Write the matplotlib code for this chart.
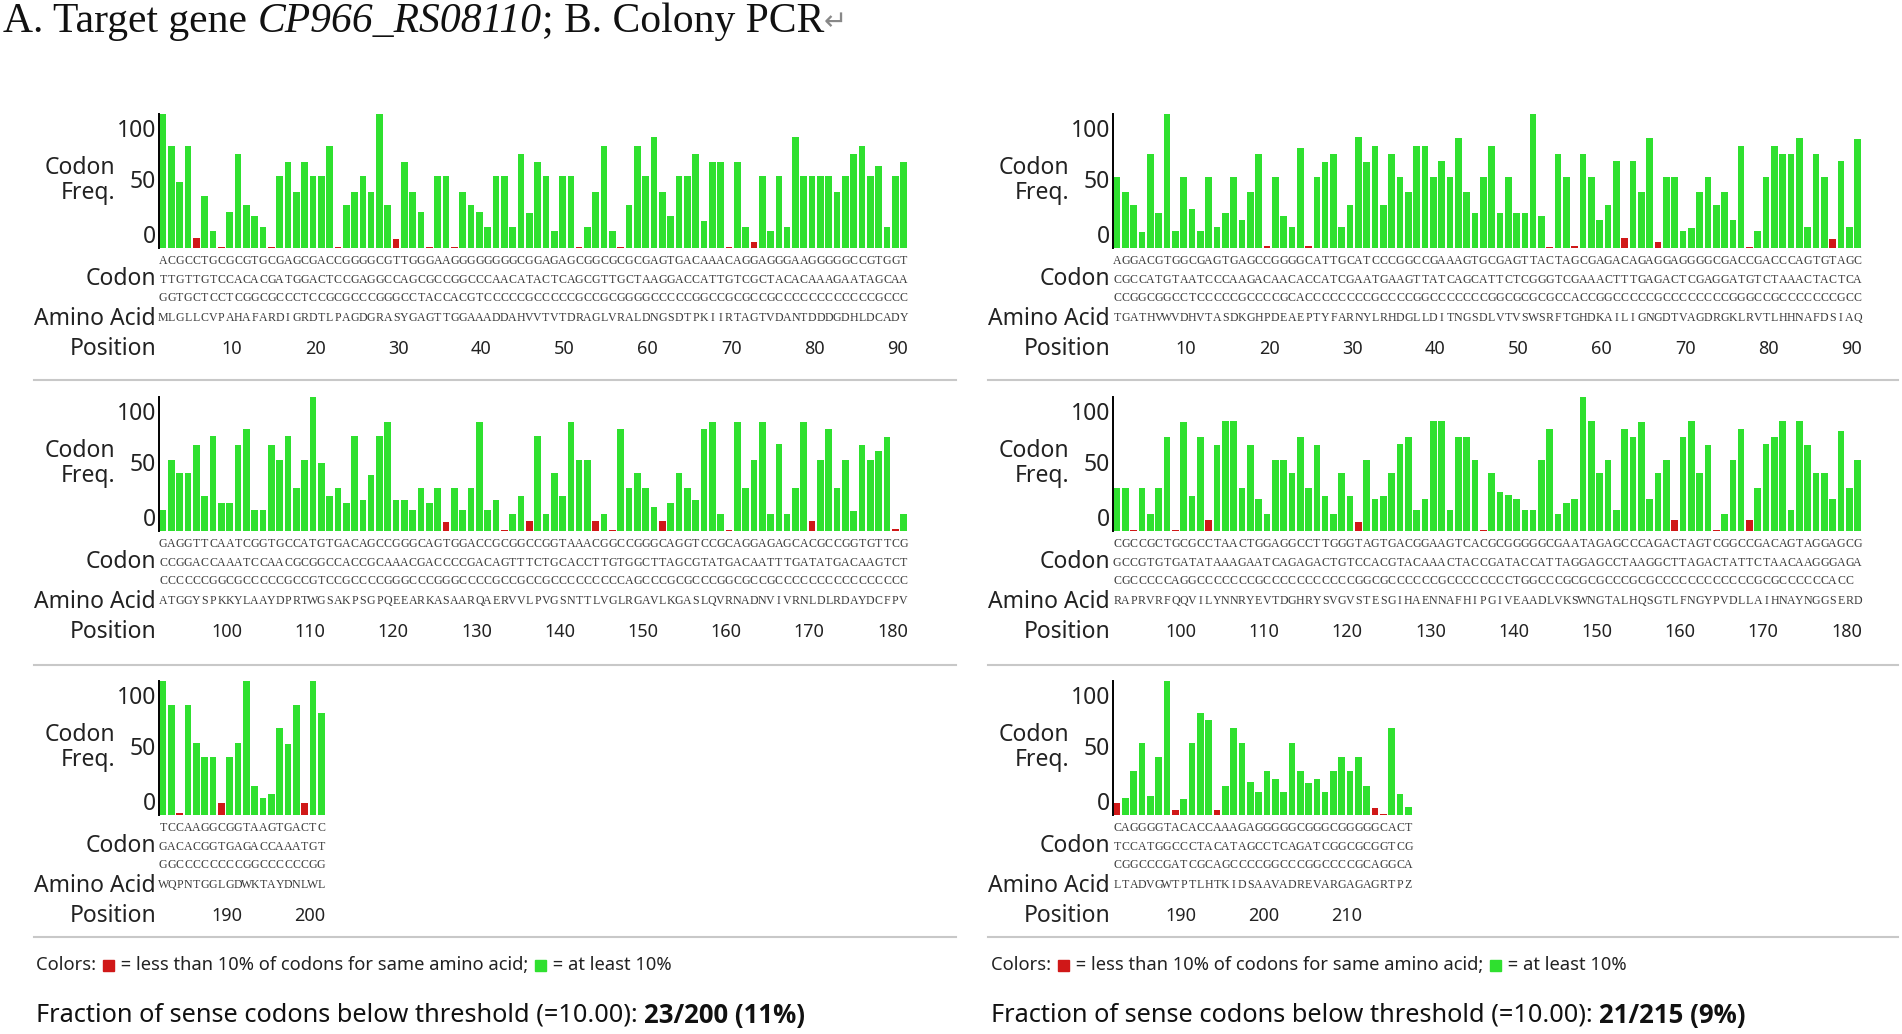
import matplotlib
matplotlib.use('Agg')
import matplotlib.pyplot as plt
from matplotlib.transforms import blended_transform_factory
from matplotlib.patches import Rectangle
from matplotlib.lines import Line2D
from matplotlib import font_manager

# codon frequency values (relative, tallest bar = 100), one list per display row
L1_FREQ = [100, 76, 49, 76, 7.5, 39, 12.5, 1, 27, 70,
           32, 24, 16, 0.5, 54, 64, 42, 64, 54, 54,
           76, 1, 32, 42, 54, 42, 100, 32, 7, 64,
           42, 27, 1, 54, 54, 1, 42, 32, 27, 16,
           54, 54, 16, 70, 26, 64, 54, 12.5, 54, 54,
           0.5, 16, 42, 76, 12.5, 0.5, 32, 76, 54, 83,
           42, 24, 54, 54, 70, 20, 64, 64, 0.5, 64,
           16, 4.5, 54, 12.5, 54, 16, 83, 54, 54, 54,
           54, 42, 54, 70, 76, 54, 61, 16, 54, 64]
L2_FREQ = [16, 53, 43, 43, 64, 26, 71, 21, 21, 64,
           76, 16, 16, 64, 53, 71, 32, 53, 100, 51,
           26, 32, 21, 71, 23, 42, 71, 81, 23, 23,
           16, 32, 21, 32, 7, 32, 16, 32, 81, 16,
           23, 1, 13, 26, 7.5, 71, 13, 43, 26, 81,
           53, 53, 7.5, 13, 1, 76, 32, 43, 32, 18,
           7.5, 21, 43, 32, 23, 76, 81, 13, 0.5, 81,
           32, 53, 81, 13, 65, 13, 32, 81, 7.5, 53,
           76, 32, 53, 15, 64, 53, 60, 70, 1.5, 13]
L3_FREQ = [100, 82, 1.2, 82, 54, 43, 43, 9, 43, 54,
           100, 22, 12.5, 16, 65, 53, 82, 9, 100, 76]
R1_FREQ = [53, 42, 32, 12, 70, 26, 100, 12.5, 53, 29,
           12.5, 53, 16, 26, 53, 21, 42, 70, 1.5, 53,
           24, 16, 75, 1.5, 53, 64, 70, 16, 32, 83,
           64, 76, 32, 70, 53, 42, 76, 76, 53, 65,
           53, 82, 42, 26, 53, 76, 26, 53, 26, 26,
           100, 24, 0.8, 70, 53, 1.5, 70, 53, 21, 32,
           65, 7.5, 65, 42, 82, 4.5, 53, 53, 12.5, 15,
           42, 53, 32, 42, 21, 76, 0.8, 13, 53, 76,
           70, 70, 82, 16, 70, 53, 7, 65, 16, 81]
R2_FREQ = [32, 32, 1, 32, 13, 32, 70, 1, 81, 26,
           70, 8, 64, 82, 82, 32, 64, 24, 13, 53,
           53, 43, 70, 32, 64, 26, 13, 43, 26, 7,
           53, 24, 26, 43, 65, 70, 15.5, 24, 82, 82,
           16, 70, 70, 53, 1, 43, 29, 27, 24, 16,
           16, 53, 76, 13, 21, 24, 100, 82, 43, 53,
           16, 76, 70, 81, 24, 43, 53, 8, 70, 82,
           43, 64, 1, 13, 53, 76, 8, 32, 65, 70,
           82, 15.5, 82, 64, 43, 43, 24, 75, 32, 53]
R3_FREQ = [9, 12.5, 33, 54, 14, 43, 100, 4, 12, 54,
           76, 71, 4, 22, 65, 54, 25, 17, 33, 27,
           17, 54, 33, 24, 27, 17, 33, 43, 33, 43,
           22, 5, 1, 65, 15.5, 6]

# positions below the 10% threshold (red bars)
L_RARE = [5, 8, 14, 22, 29, 33, 36, 51, 56, 69, 72,
          125, 132, 135, 143, 145, 151, 159, 169, 179,
          183, 188, 198]
R_RARE = [19, 24, 53, 56, 62, 66, 77, 87,
          93, 98, 102, 120, 135, 158, 163, 167,
          181, 188, 193, 212, 213]

# codon letters (1st, 2nd, 3rd base) and amino acids
L1_C1 = "ACGCCTGCGCGTGCGAGCGACCGGGGCGTTGGGAAGGGGGGGGCGGAGAGCGGCGCGCGAGTGACAAACAGGAGGGAAGGGGGCCGTGGT"
L1_C2 = "TTGTTGTCCACACGATGGACTCCGAGGCCAGCGCCGGCCCAACATACTCAGCGTTGCTAAGGACCATTGTCGCTACACAAAGAATAGCAA"
L1_C3 = "GGTGCTCCTCGGCGCCCTCCGCGCCCGGGCCTACCACGTCCCCCGCCCCCGCCGCGGGGCCCCCGGCCGCGCCGCCCCCCCCCCCCGCCC"
L1_AA = "MLGLLCVPAHAFARDIGRDTLPAGDGRASYGAGTTGGAAADDAHVVTVTDRAGLVRALDNGSDTPKIIRTAGTVDANTDDDGDHLDCADY"
L2_C1 = "GAGGTTCAATCGGTGCCATGTGACAGCCGGGCAGTGGACCGCGGCCGGTAAACGGCCGGGCAGGTCCGCAGGAGAGCACGCCGGTGTTCG"
L2_C2 = "CCGGACCAAATCCAACGCGGCCACCGCAAACGACCCCGACAGTTTCTGCACCTTGTGGCTTAGCGTATGACAATTTGATATGACAAGTCT"
L2_C3 = "CCCCCCGGCGCCCCCGCCGTCCGCCCCGGGCCCGGGCCCCGCCGCCGCCCCCCCCCAGCCCGCGCCCGGCGCCGCCCCCCCCCCCCCCCC"
L2_AA = "ATGGYSPKKYLAAYDPRTWGSAKPSGPQEEARKASAARQAERVVLPVGSNTTLVGLRGAVLKGASLQVRNADNVIVRNLDLRDAYDCFPV"
L3_C1 = "TCCAAGGCGGTAAGTGACTC"
L3_C2 = "GACACGGTGAGACCAAATGT"
L3_C3 = "GGCCCCCCCCGGCCCCCCGG"
L3_AA = "WQPNTGGLGDWKTAYDNLWL"
R1_C1 = "AGGACGTGGCGAGTGAGCCGGGGCATTGCATCCCGGCCGAAAGTGCGAGTTACTAGCGAGACAGAGGAGGGGCGACCGACCCAGTGTAGC"
R1_C2 = "CGCCATGTAATCCCAAGACAACACCATCGAATGAAGTTATCAGCATTCTCGGGTCGAAACTTTGAGACTCGAGGATGTCTAAACTACTCA"
R1_C3 = "CCGGCGGCCTCCCCCGCCCCGCACCCCCCCCGCCCCGGCCCCCCCGGCGCGCGCCACCGGCCCCCGCCCCCCCCGGGCCGCCCCCCCGCC"
R1_AA = "TGATHVWVDHVTASDKGHPDEAEPTYFARNYLRHDGLLDITNGSDLVTVSWSRFTGHDKAILIGNGDTVAGDRGKLRVTLHHNAFDSIAQ"
R2_C1 = "CGCCGCTGCGCCTAACTGGAGGCCTTGGGTAGTGACGGAAGTCACGCGGGGGCGAATAGAGCCCAGACTAGTCGGCCGACAGTAGGAGCG"
R2_C2 = "GCCGTGTGATATAAAGAATCAGAGACTGTCCACGTACAAACTACCGATACCATTAGGAGCCTAAGGCTTAGACTATTCTAACAAGGGAGA"
R2_C3 = "CGCCCCCAGGCCCCCCCGCCCCCCCCCCCGGCGCCCCCCGCCCCCCCCTGGCCCGCGCGCCCGCGCCCCCCCCCCCCGCGCCCCCCACC"
R2_AA = "RAPRVRFQQVILYNNRYEVTDGHRYSVGVSTESGIHAENNAFHIPGIVEAADLVKSWNGTALHQSGTLFNGYPVDLLAIHNAYNGGSERD"
R3_C1 = "CAGGGGTACACCAAAGAGGGGGCGGGCGGGGGCACT"
R3_C2 = "TCCATGGCCCTACATAGCCTCAGATCGGCGCGGTCG"
R3_C3 = "CGGCCCGATCGCAGCCCCGGCCCGGCCCCGCAGGCA"
R3_AA = "LTADVGWTPTLHTKIDSAAVADREVARGAGAGRTPZ"

L_TICKS = [list(range(10, 91, 10)), list(range(100, 181, 10)), [190, 200]]
R_TICKS = [list(range(10, 91, 10)), list(range(100, 181, 10)), [190, 200, 210]]
L_FRACTION = "23/200 (11%)"
R_FRACTION = "21/215 (9%)"

GREEN = '#2fe02f'
RED = '#d01818'
SANS = 'Noto Sans'

# pick a sans family that really has a bold face
BOLD = 'DejaVu Sans'
for fam in ['Noto Sans', 'Open Sans', 'Lato']:
    f = font_manager.findfont(font_manager.FontProperties(family=fam, weight='bold'),
                              fallback_to_default=False)
    if 'bold' in f.lower() and fam.split()[0].lower() in f.lower():
        BOLD = fam
        break

W, H = 1902, 1034
fig = plt.figure(figsize=(W / 100, H / 100), dpi=100, facecolor='white')
renderer = fig.canvas.get_renderer()


def fx(x):
    return x / W


def fy(y):
    return 1 - y / H


SLOT = 8.32
BASES = [248, 531, 815]
LAB = dict(fontsize=16.5, family=SANS, color='#222')


def draw_row(x0, base, start, freq, rare, c1, c2, c3, aa, ticks):
    ax = fig.add_axes([fx(x0), fy(base), fx(90 * SLOT), 134 / H])
    ax.set_xlim(0, 90)
    ax.set_ylim(0, 100)
    n = len(freq)
    cols = [RED if start + i in rare else GREEN for i in range(n)]
    ax.bar([i + 0.5 for i in range(n)], freq, width=0.8, color=cols, linewidth=0)
    for s in ['top', 'right', 'bottom']:
        ax.spines[s].set_visible(False)
    ax.spines['left'].set_linewidth(1.4)
    ax.set_xticks([])
    ax.set_yticks([])
    ax.patch.set_alpha(0)
    # y labels (end labels sit inside the axis range)
    for v, off in [(100, -17), (50, -1), (0, 11)]:
        ax.annotate(str(v), xy=(0, v), xycoords=('axes fraction', 'data'),
                    xytext=(-3, off), textcoords='offset pixels',
                    ha='right', va='center', **LAB)
    fig.text(fx(x0 - 44), fy(base - 80), 'Codon', ha='right', va='center', **LAB)
    fig.text(fx(x0 - 44), fy(base - 55), 'Freq.', ha='right', va='center', **LAB)
    tr = blended_transform_factory(ax.transData, fig.transFigure)
    for dy, s in [(13, c1), (32, c2), (50, c3), (70, aa)]:
        for i, ch in enumerate(s[:n]):
            ax.text(i + 0.5, fy(base + dy), ch, transform=tr, ha='center', va='center',
                    fontsize=8.6, family='Liberation Serif', color='#3a3a3a')
    fig.text(fx(x0 - 3), fy(base + 31), 'Codon', ha='right', va='center', **LAB)
    fig.text(fx(x0 - 3), fy(base + 71), 'Amino Acid', ha='right', va='center', **LAB)
    fig.text(fx(x0 - 3), fy(base + 101), 'Position', ha='right', va='center', **LAB)
    for p in ticks:
        ax.text(p - start + 1, fy(base + 101), str(p), transform=tr, ha='right', va='center',
                fontsize=13, family=SANS, color='#222')


def run_text(x, y, parts):
    for kind, val, kw in parts:
        if kind == 'box':
            fig.add_artist(Rectangle((fx(x + 2), fy(y + 6)), fx(11), 11 / H, color=val,
                                     transform=fig.transFigure))
            x += 15
        else:
            t = fig.text(fx(x), fy(y), val, ha='left', va='center', **kw)
            x += t.get_window_extent(renderer).width
    return x


panels = [
    (159, L_RARE, [(1, L1_FREQ, L1_C1, L1_C2, L1_C3, L1_AA),
                   (91, L2_FREQ, L2_C1, L2_C2, L2_C3, L2_AA),
                   (181, L3_FREQ, L3_C1, L3_C2, L3_C3, L3_AA)], L_TICKS, 34, 956, 36, L_FRACTION),
    (1113, R_RARE, [(1, R1_FREQ, R1_C1, R1_C2, R1_C3, R1_AA),
                    (91, R2_FREQ, R2_C1, R2_C2, R2_C3, R2_AA),
                    (181, R3_FREQ, R3_C1, R3_C2, R3_C3, R3_AA)], R_TICKS, 988, 1898, 991, R_FRACTION),
]

for x0, rare, rows, ticks, sx0, sx1, tx, frac in panels:
    for k, (start, freq, c1, c2, c3, aa) in enumerate(rows):
        draw_row(x0, BASES[k], start, freq, rare, c1, c2, c3, aa, ticks[k])
    for ys in [380, 665, 937]:
        fig.add_artist(Line2D([fx(sx0), fx(sx1)], [fy(ys), fy(ys)], color='#c8c8c8', lw=1.5))
    small = dict(fontsize=13.2, family=SANS, color='#222')
    run_text(tx, 965, [('text', 'Colors: ', small), ('box', RED, None),
                       ('text', ' = less than 10% of codons for same amino acid; ', small),
                       ('box', GREEN, None), ('text', ' = at least 10%', small)])
    big = dict(fontsize=18.2, family=SANS, color='#111')
    run_text(tx, 1015, [('text', 'Fraction of sense codons below threshold (=10.00): ', big),
                        ('text', frac, dict(big, family=BOLD, fontweight='bold', fontsize=18.5))])

# title
serif = dict(fontsize=30, family='Liberation Serif', color='#111')
run_text(3, 22, [('text', 'A. Target gene ', serif),
                 ('text', 'CP966_RS08110', dict(serif, style='italic')),
                 ('text', '; B. Colony PCR', serif),
                 ('text', '\u21b5', dict(fontsize=20, family='DejaVu Sans', color='#888'))])

fig.savefig('out.png', dpi=100, facecolor='white')
